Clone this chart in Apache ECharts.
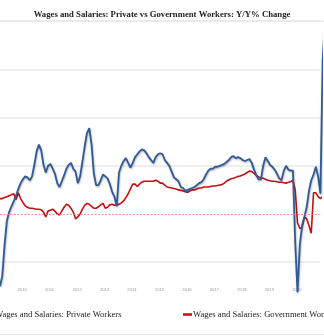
<!DOCTYPE html>
<html>
<head>
<meta charset="utf-8">
<script src="https://cdn.jsdelivr.net/npm/echarts@6/dist/echarts.min.js"></script>
<style>html,body{margin:0;padding:0;background:#fff}#c{width:324px;height:336px}</style>
</head>
<body>
<div id="c"></div>
<script>
// Monthly series, June 2009 .. April 2021 (Y/Y % change)
var startYear = 2009, startMonth = 6, monthCount = 143;
var yearLabels = ['2010','2011','2012','2013','2014','2015','2016','2017','2018','2019','2020'];
var privateName = 'Wages and Salaries: Private Workers';
var govName = 'Wages and Salaries: Government Workers';
var privateWages = [
 -7.5,-6.4,-3.2,-0.7,0.2,0.8,1.3,
 1.9,2.6,3.2,3.6,3.9,3.8,3.5,3.9,5.1,6.5,7.2,6.6,
 5.1,4.3,5.0,5.2,4.7,4.2,3.2,2.8,3.4,4.0,4.7,5.1,
 5.3,4.7,4.4,3.2,3.9,5.4,7.0,8.4,8.9,7.2,4.2,3.0,
 3.0,3.5,4.1,3.9,3.7,3.1,2.3,1.8,0.8,4.3,5.0,5.5,
 5.8,5.3,4.8,5.3,5.9,6.2,6.5,6.7,6.6,6.3,5.9,5.6,
 5.3,5.9,6.2,6.3,6.2,5.6,5.3,5.0,4.4,3.8,3.6,3.4,
 2.8,2.7,2.4,2.5,2.6,2.7,2.8,3.0,3.2,3.3,3.6,4.1,
 4.5,4.7,4.7,4.9,4.9,5.0,5.1,5.2,5.4,5.6,5.9,6.0,
 5.8,5.9,5.8,5.6,5.5,5.6,5.7,5.3,4.6,4.0,3.6,3.6,
 5.0,5.9,5.5,5.1,4.9,4.6,4.2,3.7,3.5,4.5,5.0,4.6,
 4.5,4.5,-3.0,-8.1,-3.2,-1.2,-0.3,0.7,2.4,3.5,4.1,4.9,
 3.9,2.1,16.0,20.0
];
var govWages = [
 1.6,1.6,1.7,1.8,1.9,2.0,2.1,
 1.5,2.2,1.6,1.2,0.85,0.7,0.6,0.6,0.55,0.5,0.5,0.45,
 0.2,-0.3,0.3,0.4,0.5,0.3,0.0,-0.1,0.3,0.7,1.0,0.9,
 0.6,0.2,-0.5,-0.3,0.0,0.5,0.9,1.1,1.0,0.8,0.6,0.6,
 0.75,0.95,1.1,0.6,0.7,0.95,1.0,0.9,0.95,1.0,1.15,1.35,
 1.7,2.1,2.6,3.1,3.1,2.85,3.1,3.3,3.4,3.4,3.4,3.4,
 3.4,3.5,3.4,3.2,3.2,3.0,2.8,2.75,2.7,2.65,2.6,2.5,
 2.45,2.4,2.3,2.25,2.4,2.5,2.5,2.6,2.7,2.7,2.8,2.8,
 2.8,2.85,2.9,2.9,2.95,3.0,3.05,3.2,3.4,3.55,3.65,3.7,
 3.8,3.9,3.95,4.05,4.15,4.3,4.45,4.4,4.2,4.0,3.85,3.75,
 3.7,3.6,3.5,3.45,3.4,3.4,3.35,3.3,3.3,3.25,3.2,3.3,
 3.35,3.5,2.5,-0.9,-1.5,-1.4,-0.3,-0.5,-1.2,-2.0,2.2,2.2,
 1.8,1.6,1.8,6.2
];

var months = [];
for (var i = 0; i < monthCount; i++) {
  var m = startMonth - 1 + i;
  var y = startYear + Math.floor(m / 12);
  var mm = (m % 12) + 1;
  months.push(y + '-' + (mm < 10 ? '0' + mm : mm));
}

var chart = echarts.init(document.getElementById('c'), null, {renderer: 'canvas'});
var serif = '"Liberation Serif", "Times New Roman", serif';
chart.setOption({
  animation: false,
  backgroundColor: '#fff',
  title: {
    text: 'Wages and Salaries: Private vs Government Workers: Y/Y% Change',
    left: 'center', top: 5,
    textStyle: {fontFamily: serif, fontWeight: 'bold', fontSize: 8.7, color: '#222'}
  },
  legend: [
    {data: [privateName], left: -19, top: 310, padding: 0, icon: 'rect', itemWidth: 9, itemHeight: 2.5,
     textStyle: {fontFamily: serif, fontSize: 8.6, color: '#222'}},
    {data: [govName], left: 183, top: 310, padding: 0, icon: 'rect', itemWidth: 9, itemHeight: 2.5,
     textStyle: {fontFamily: serif, fontSize: 8.6, color: '#222', padding: [0, 0, 0, -4]}}
  ],
  grid: {left: -2.78, right: 3.6, top: 21.2, bottom: 25.6, containLabel: false},
  xAxis: {
    type: 'category', data: months, boundaryGap: false, max: 140,
    offset: -20.4,
    axisLine: {show: false}, axisTick: {show: false}, splitLine: {show: false},
    axisLabel: {
      margin: 0, fontSize: 4.2, color: '#9a9a9a', align: 'left', verticalAlign: 'middle',
      padding: [0, 0, 0, 1.5],
      interval: function (idx, val) {
        return val.slice(5) === '01' && yearLabels.indexOf(val.slice(0, 4)) >= 0;
      },
      formatter: function (val) { return val.slice(0, 4); }
    }
  },
  yAxis: {
    type: 'value', min: -10, max: 20, interval: 5,
    axisLine: {show: false}, axisTick: {show: false}, axisLabel: {show: false},
    splitLine: {show: true, lineStyle: {width: 1.5,
      color: ['rgba(0,0,0,0)', '#e9e9e9', 'rgba(0,0,0,0)', '#e9e9e9', '#e9e9e9', '#e9e9e9', '#e9e9e9']}}
  },
  series: [
    {
      name: privateName, type: 'line', data: privateWages, showSymbol: false, symbol: 'none',
      clip: false, z: 3,
      itemStyle: {color: '#2f5b96'},
      lineStyle: {color: '#2f5b96', width: 1.8, shadowColor: 'rgba(0,0,0,0.35)', shadowBlur: 2, shadowOffsetY: 1, shadowOffsetX: 0.5}
    },
    {
      name: govName, type: 'line', data: govWages, showSymbol: false, symbol: 'none',
      clip: false, z: 2,
      itemStyle: {color: '#c40f12'},
      lineStyle: {color: '#c40f12', width: 1.6},
      markLine: {
        silent: true, symbol: 'none', label: {show: false},
        lineStyle: {color: '#ee7777', type: [2, 1.5], width: 0.8},
        data: [{yAxis: 0}]
      }
    }
  ],
  graphic: [
    {type: 'line', shape: {x1: 0, y1: 21.2, x2: 324, y2: 21.2}, style: {stroke: '#e9e9e9', lineWidth: 1.5}},
    {type: 'line', shape: {x1: 0, y1: 334.5, x2: 324, y2: 334.5}, style: {stroke: '#e6e6e6', lineWidth: 1}}
  ]
});
</script>
</body>
</html>
